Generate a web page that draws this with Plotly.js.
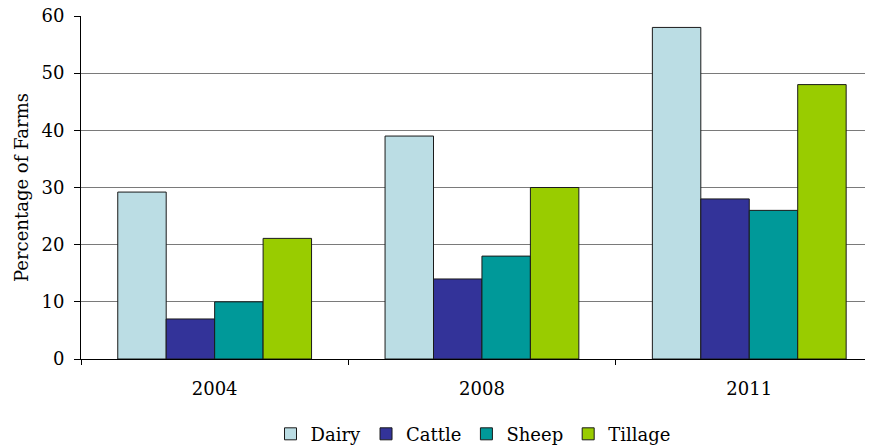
<!DOCTYPE html>
<html>
<head>
<meta charset="utf-8">
<script src="https://cdn.plot.ly/plotly-3.0.1.min.js"></script>
<style>html,body{margin:0;padding:0;background:#fff;}#chart{width:873px;height:447px;}</style>
</head>
<body>
<div id="chart"></div>
<script>
const years = ["2004", "2008", "2011"];
const seriesNames = ["Dairy", "Cattle", "Sheep", "Tillage"];
const dairy = [29.2, 39, 58];
const cattle = [7, 14, 28];
const sheep = [10, 18, 26];
const tillage = [21.1, 30, 48];
const colors = ["#bbdde4", "#333399", "#009999", "#99cc00"];
const seriesValues = [dairy, cattle, sheep, tillage];

const traces = seriesNames.map((name, i) => ({
  type: "bar",
  name: name,
  x: years,
  y: seriesValues[i],
  marker: {color: colors[i], line: {color: "#1a1a1a", width: 1}}
}));

const fam = "DejaVu Serif, Liberation Serif, serif";
const layout = {
  width: 873, height: 447,
  margin: {l: 81, r: 8, t: 16, b: 88, autoexpand: false},
  paper_bgcolor: "#fff", plot_bgcolor: "#fff",
  font: {family: fam, size: 18, color: "#000"},
  barmode: "group",
  bargap: 0.275,
  bargroupgap: 0,
  showlegend: true,
  legend: {orientation: "h", x: 0.5, xanchor: "center", y: -0.219, yanchor: "middle",
    font: {family: fam, size: 18, color: "#000"}, itemwidth: 30, tracegroupgap: 0},
  xaxis: {
    type: "category",
    range: [-0.5, 2.433],
    tickson: "boundaries",
    ticks: "outside", ticklen: 5, tickcolor: "#000",
    showline: true, linecolor: "#000", linewidth: 1,
    showgrid: false,
    ticklabelstandoff: 13,
    tickfont: {family: fam, size: 18, color: "#000"}
  },
  yaxis: {
    range: [0, 60], dtick: 10,
    ticks: "outside", ticklen: 6, tickcolor: "#000",
    showline: true, linecolor: "#000", linewidth: 1,
    showgrid: true, gridcolor: "#7a7a7a", gridwidth: 1,
    zeroline: false,
    ticklabelstandoff: 6,
    tickfont: {family: fam, size: 18, color: "#000"},
    title: {text: "Percentage of Farms", font: {family: fam, size: 18, color: "#000"}, standoff: 8}
  }
};
Plotly.newPlot("chart", traces, layout, {displayModeBar: false, staticPlot: true});
</script>
</body>
</html>
